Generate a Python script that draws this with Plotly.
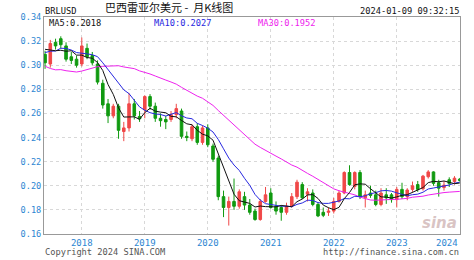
import plotly.graph_objects as go

# ---------------- data ----------------
months = [f"{y}-{m:02d}" for y in range(2017, 2025) for m in range(1, 13)]
months = months[months.index("2017-06"):months.index("2024-01") + 1]

open_ = [0.309, 0.301, 0.319, 0.322, 0.316, 0.307, 0.305, 0.301, 0.314, 0.308,
         0.301, 0.285, 0.268, 0.258, 0.266, 0.245, 0.248, 0.268, 0.2575, 0.263,
         0.274, 0.266, 0.256, 0.255, 0.255, 0.259, 0.262, 0.241, 0.239, 0.249,
         0.236, 0.248, 0.233, 0.223, 0.191, 0.182, 0.187, 0.183, 0.191, 0.184,
         0.179, 0.172, 0.187, 0.194, 0.183, 0.182, 0.178, 0.183, 0.191, 0.201,
         0.193, 0.194, 0.1845, 0.178, 0.178, 0.179, 0.187, 0.194, 0.211, 0.1995,
         0.211, 0.190, 0.194, 0.1925, 0.1845, 0.1925, 0.1925, 0.1885, 0.197, 0.191,
         0.197, 0.201, 0.1975, 0.2075, 0.2115, 0.2025, 0.1985, 0.205, 0.2035, 0.2055]
high = [0.312, 0.321, 0.322, 0.324, 0.319, 0.311, 0.308, 0.323, 0.318, 0.311,
        0.304, 0.288, 0.272, 0.268, 0.268, 0.253, 0.277, 0.272, 0.262, 0.275,
        0.276, 0.269, 0.260, 0.258, 0.262, 0.268, 0.264, 0.245, 0.251, 0.252,
        0.250, 0.251, 0.235, 0.225, 0.196, 0.191, 0.206, 0.197, 0.195, 0.189,
        0.181, 0.189, 0.199, 0.198, 0.187, 0.184, 0.186, 0.194, 0.205, 0.203,
        0.198, 0.197, 0.186, 0.182, 0.182, 0.190, 0.196, 0.212, 0.217, 0.212,
        0.213, 0.196, 0.200, 0.196, 0.198, 0.198, 0.194, 0.199, 0.2025, 0.198,
        0.2035, 0.204, 0.209, 0.213, 0.212, 0.205, 0.204, 0.207, 0.208, 0.2065]
low = [0.297, 0.298, 0.313, 0.314, 0.303, 0.301, 0.298, 0.299, 0.305, 0.300,
       0.284, 0.264, 0.252, 0.256, 0.239, 0.237, 0.245, 0.255, 0.253, 0.256,
       0.263, 0.253, 0.249, 0.247, 0.253, 0.256, 0.239, 0.237, 0.237, 0.234,
       0.234, 0.232, 0.220, 0.188, 0.174, 0.167, 0.180, 0.181, 0.180, 0.176,
       0.171, 0.171, 0.186, 0.181, 0.176, 0.171, 0.176, 0.182, 0.189, 0.189,
       0.187, 0.183, 0.174, 0.174, 0.175, 0.177, 0.186, 0.193, 0.200, 0.197,
       0.189, 0.182, 0.190, 0.183, 0.183, 0.185, 0.186, 0.182, 0.189, 0.188,
       0.195, 0.195, 0.196, 0.206, 0.200, 0.191, 0.196, 0.199, 0.201, 0.2035]
close = [0.302, 0.318, 0.316, 0.317, 0.305, 0.304, 0.300, 0.316, 0.307, 0.302,
         0.286, 0.267, 0.258, 0.266, 0.246, 0.248, 0.268, 0.258, 0.2555, 0.274,
         0.266, 0.256, 0.254, 0.253, 0.259, 0.264, 0.241, 0.240, 0.249, 0.236,
         0.248, 0.234, 0.222, 0.191, 0.182, 0.187, 0.183, 0.195, 0.184, 0.178,
         0.172, 0.187, 0.1925, 0.182, 0.179, 0.178, 0.183, 0.191, 0.203, 0.190,
         0.195, 0.1845, 0.175, 0.1755, 0.179, 0.187, 0.194, 0.211, 0.201, 0.211,
         0.191, 0.1925, 0.192, 0.1845, 0.194, 0.190, 0.1885, 0.197, 0.191, 0.1965,
         0.200, 0.197, 0.208, 0.2115, 0.202, 0.198, 0.2005, 0.202, 0.2063, 0.2045]

# month-end closes before the window (2015-01 .. 2017-05), used only to warm up the MAs
prior_close = [0.373, 0.350, 0.312, 0.332, 0.314, 0.322, 0.292, 0.275, 0.252, 0.259,
               0.258, 0.253, 0.250, 0.253, 0.278, 0.291, 0.277, 0.311, 0.308, 0.309,
               0.307, 0.314, 0.294, 0.307, 0.317, 0.321, 0.319, 0.315, 0.309]

y_ticks = [0.16, 0.18, 0.20, 0.22, 0.24, 0.26, 0.28, 0.30, 0.32, 0.34]
year_labels = ["2018", "2019", "2020", "2021", "2022", "2023", "2024"]

ma_labels = {"MA5": "0.2018", "MA10": "0.2027", "MA30": "0.1952"}

# ---------------- derived ----------------
x = list(range(len(months)))
all_close = prior_close + close


def ma(n):
    out = []
    off = len(prior_close)
    for i in range(len(close)):
        j = off + i
        w = all_close[j - n + 1:j + 1]
        out.append(sum(w) / len(w))
    return out


year_x = [months.index(y + "-01") for y in year_labels]

RED = "#f04848"
GREEN = "#109a10"
MONO = "DejaVu Sans Mono"
TICK_BLUE = "#2d86d2"

fig = go.Figure()
fig.add_trace(go.Candlestick(
    x=x, open=open_, high=high, low=low, close=close,
    increasing=dict(line=dict(color=RED, width=1), fillcolor=RED),
    decreasing=dict(line=dict(color=GREEN, width=1), fillcolor=GREEN),
    whiskerwidth=0, showlegend=False, hoverinfo="skip",
))
for n, col in [(30, "#ee22ee"), (10, "#2828e0"), (5, "#111111")]:
    fig.add_trace(go.Scatter(x=x, y=ma(n), mode="lines",
                             line=dict(color=col, width=1),
                             showlegend=False, hoverinfo="skip"))

fig.update_layout(
    width=474, height=260,
    margin=dict(l=44, r=14, t=14, b=25),
    paper_bgcolor="white", plot_bgcolor="white",
    font=dict(family=MONO, size=9, color="#333"),
    xaxis=dict(
        range=[-0.2, 79.05], rangeslider=dict(visible=False),
        tickvals=year_x, ticktext=year_labels[:-1] + [""],
        showgrid=True, gridcolor="#d8d8d8", griddash="dot", gridwidth=1,
        showline=True, linecolor="#999", mirror=True, zeroline=False,
        ticks="", tickfont=dict(family=MONO, size=9, color=TICK_BLUE),
    ),
    yaxis=dict(
        range=[0.16, 0.34], tickvals=y_ticks, tickformat=".2f",
        showgrid=True, gridcolor="#d8d8d8", griddash="dot", gridwidth=1,
        showline=True, linecolor="#999", mirror=True, zeroline=False,
        ticks="", tickfont=dict(family=MONO, size=8.6, color=TICK_BLUE),
    ),
)

ann = []
# 2024 label sits inside the right edge
ann.append(dict(x=year_x[-1], y=0, xref="x", yref="paper", text=year_labels[-1],
                xanchor="right", yanchor="top", yshift=-2, showarrow=False,
                font=dict(family=MONO, size=9, color=TICK_BLUE)))


def add_text(px, py, text, color, size=8.7, anchor="left", family=MONO):
    # pixel position relative to the paper; yanchor bottom at baseline-ish
    ann.append(dict(x=px / 474, y=1 - py / 260, xref="paper", yref="paper",
                    text=text, xanchor=anchor, yanchor="middle", showarrow=False,
                    font=dict(family=family, size=size, color=color)))


fig.update_layout(
    title=dict(text="巴西雷亚尔美元&nbsp;-&nbsp;&nbsp;月K线图", x=105 / 474, xanchor="left",
               y=1 - 8 / 260, yanchor="middle", yref="container",
               font=dict(family="Noto Sans CJK SC", size=11, color="#111")))

add_text(43, 8, "BRLUSD", "#111")
add_text(461, 8, "2024-01-09 09:32:15", "#111", anchor="right")
add_text(47, 20, "MA5:" + ma_labels["MA5"], "#111")
add_text(152, 20, "MA10:" + ma_labels["MA10"], "#2828e0")
add_text(256, 20, "MA30:" + ma_labels["MA30"], "#ee22ee")
add_text(43, 253, "Copyright 2024 SINA.COM", "#555")
add_text(461, 253, "http://finance.sina.com.cn", "#555", anchor="right")
add_text(459, 224, "<b><i>sina</i></b>", "rgba(200,170,170,0.7)", size=15,
         anchor="right", family="DejaVu Sans")

for a in ann[1:]:
    a["xref"] = "paper"
# convert pixel-based paper coords to plot-area paper coords
for a in ann[1:]:
    pxx = a["x"] * 474
    pyy = (1 - a["y"]) * 260
    a["x"] = (pxx - 44) / 416
    a["y"] = (235 - pyy) / 221

fig.update_layout(annotations=ann)
fig.write_html("out.html")
